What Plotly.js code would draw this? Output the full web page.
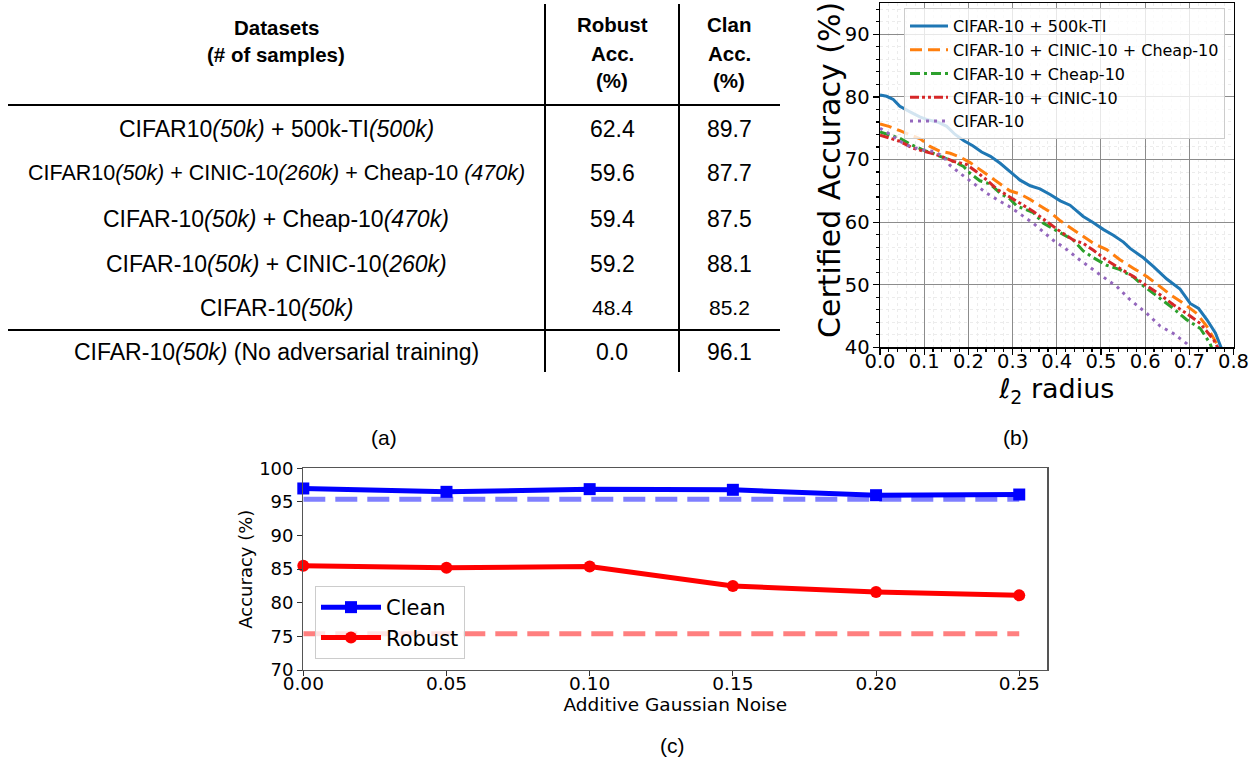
<!DOCTYPE html>
<html>
<head>
<meta charset="utf-8">
<script src="https://cdn.plot.ly/plotly-3.0.1.min.js"></script>
<style>html,body{margin:0;padding:0;background:#fff;}#chart{width:1256px;height:758px;}</style>
</head>
<body>
<div id="chart"></div>
<script>
// ---------- (a) table data ----------
const tableHeaderDatasets = ['Datasets', '(# of samples)'];
const tableHeaderRobust = ['Robust', 'Acc.', '(%)'];
const tableHeaderClean = ['Clan', 'Acc.', '(%)'];
const datasetLabels = [
  'CIFAR10<i>(50k)</i> + 500k-TI<i>(500k)</i>',
  'CIFAR10<i>(50k)</i> + CINIC-10<i>(260k)</i> + Cheap-10 <i>(470k)</i>',
  'CIFAR-10<i>(50k)</i> + Cheap-10<i>(470k)</i>',
  'CIFAR-10<i>(50k)</i> + CINIC-10(<i>260k)</i>',
  'CIFAR-10<i>(50k)</i>',
  'CIFAR-10<i>(50k)</i> (No adversarial training)'
];
const tableRobustAcc = ['62.4', '59.6', '59.4', '59.2', '48.4', '0.0'];
const tableCleanAcc = ['89.7', '87.7', '87.5', '88.1', '85.2', '96.1'];

// ---------- (b) certified accuracy curves ----------
const seriesNamesB = ['CIFAR-10 + 500k-TI', 'CIFAR-10 + CINIC-10 + Cheap-10', 'CIFAR-10 + Cheap-10', 'CIFAR-10 + CINIC-10', 'CIFAR-10'];
const ti500kX = [0, 0.015, 0.03, 0.045, 0.068, 0.09, 0.11, 0.13, 0.151, 0.17, 0.19, 0.21, 0.23, 0.25, 0.272, 0.294, 0.317, 0.34, 0.362, 0.385, 0.408, 0.43, 0.46, 0.483, 0.506, 0.528, 0.551, 0.566, 0.596, 0.619, 0.649, 0.679, 0.702, 0.721, 0.74, 0.759, 0.77, 0.78];
const ti500kY = [80.3, 80.1, 79.6, 78.5, 77.6, 76.8, 76.3, 76.0, 75.3, 74.0, 73.0, 72.2, 71.2, 70.5, 69.4, 68.1, 66.7, 65.8, 65.3, 64.4, 63.4, 62.7, 60.9, 59.9, 58.8, 57.9, 56.8, 55.8, 54.3, 52.9, 50.9, 49.3, 47.0, 46.2, 44.4, 42.3, 40.1, 38.5];
const cinicCheapX = [0, 0.02, 0.045, 0.07, 0.091, 0.113, 0.136, 0.159, 0.181, 0.204, 0.226, 0.249, 0.272, 0.294, 0.317, 0.34, 0.362, 0.385, 0.408, 0.438, 0.46, 0.483, 0.513, 0.543, 0.574, 0.604, 0.634, 0.657, 0.687, 0.717, 0.74, 0.762, 0.775];
const cinicCheapY = [75.7, 75.3, 74.6, 73.9, 73.3, 72.1, 71.3, 71.0, 70.4, 69.5, 68.4, 67.3, 66.2, 65.0, 64.5, 63.6, 62.6, 61.6, 60.2, 58.8, 57.7, 56.6, 55.6, 54.0, 52.6, 51.3, 49.7, 48.4, 47.0, 45.4, 43.3, 40.5, 39.0];
const cheapX = [0, 0.02, 0.045, 0.07, 0.098, 0.12, 0.136, 0.166, 0.189, 0.204, 0.226, 0.249, 0.272, 0.294, 0.309, 0.33, 0.347, 0.37, 0.39, 0.408, 0.438, 0.46, 0.483, 0.513, 0.543, 0.574, 0.596, 0.634, 0.664, 0.694, 0.725, 0.747, 0.755];
const cheapY = [74.4, 74.0, 73.4, 72.4, 71.5, 71.0, 70.5, 69.7, 68.9, 67.8, 66.6, 66.1, 64.6, 63.7, 62.6, 62.0, 61.5, 59.8, 59.0, 58.2, 57.1, 55.4, 54.3, 53.1, 52.4, 51.2, 49.8, 47.8, 46.2, 44.4, 43.0, 40.6, 39.0];
const cinicX = [0, 0.02, 0.045, 0.075, 0.106, 0.136, 0.166, 0.196, 0.219, 0.242, 0.264, 0.287, 0.309, 0.347, 0.377, 0.408, 0.438, 0.46, 0.483, 0.513, 0.543, 0.574, 0.604, 0.634, 0.664, 0.694, 0.725, 0.755, 0.768];
const cinicY = [73.9, 73.4, 72.9, 71.8, 71.2, 70.6, 69.7, 69.2, 68.0, 66.7, 65.3, 64.3, 63.3, 61.7, 60.1, 58.5, 57.1, 56.6, 55.5, 53.9, 52.6, 51.3, 49.8, 48.4, 46.8, 45.4, 43.8, 41.2, 39.5];
const cifarX = [0, 0.015, 0.03, 0.045, 0.07, 0.1, 0.121, 0.143, 0.158, 0.181, 0.211, 0.242, 0.272, 0.29, 0.309, 0.347, 0.392, 0.423, 0.453, 0.483, 0.506, 0.536, 0.566, 0.604, 0.634, 0.664, 0.694, 0.71];
const cifarY = [75.0, 74.4, 73.7, 72.9, 72.0, 71.5, 71.3, 70.5, 69.1, 67.8, 66.2, 64.6, 63.3, 62.6, 61.7, 59.8, 57.1, 55.6, 53.9, 52.3, 51.2, 49.7, 47.6, 45.4, 43.4, 42.2, 40.6, 39.5];
const xTicksB = [0, 0.1, 0.2, 0.3, 0.4, 0.5, 0.6, 0.7, 0.8];
const yTicksB = [40, 50, 60, 70, 80, 90];

// ---------- (c) noise experiment ----------
const noiseLevels = [0, 0.05, 0.10, 0.15, 0.20, 0.25];
const cleanAccC = [97.0, 96.5, 96.9, 96.8, 96.0, 96.1];
const robustAccC = [85.5, 85.2, 85.4, 82.5, 81.6, 81.1];
const baselineX = [0, 0.25];
const cleanBaseline = [95.4, 95.4];
const robustBaseline = [75.4, 75.4];
const xTicksC = [0, 0.05, 0.10, 0.15, 0.20, 0.25];
const yTicksC = [70, 75, 80, 85, 90, 95, 100];

// ---------- helpers ----------
const W = 1256, H = 758;
const px = x => x / W;
const py = y => 1 - y / H;
const MPL = 'DejaVu Sans, sans-serif';
const ARIAL = 'Liberation Sans, Arial, sans-serif';

const traces = [];
const bColors = ['#1f77b4', '#ff7f0e', '#2ca02c', '#d62728', '#9467bd'];
const bDashes = ['solid', '12px,6px', '10px,4px,3px,4px', '9px,3px,3px,3px,3px,3px', '3px,5px'];
const bX = [ti500kX, cinicCheapX, cheapX, cinicX, cifarX];
const bY = [ti500kY, cinicCheapY, cheapY, cinicY, cifarY];
for (let i = 0; i < 5; i++) {
  traces.push({
    type: 'scatter', mode: 'lines', x: bX[i], y: bY[i], name: seriesNamesB[i],
    xaxis: 'x', yaxis: 'y', legend: 'legend', legendgroup: 'b' + i,
    line: {color: bColors[i], width: 3, dash: bDashes[i]}
  });
}
traces.push({
  type: 'scatter', mode: 'lines', x: baselineX, y: cleanBaseline, xaxis: 'x2', yaxis: 'y2',
  showlegend: false, line: {color: 'rgba(0,0,255,0.5)', width: 5, dash: '22px,10px'}
});
traces.push({
  type: 'scatter', mode: 'lines', x: baselineX, y: robustBaseline, xaxis: 'x2', yaxis: 'y2',
  showlegend: false, line: {color: 'rgba(255,0,0,0.5)', width: 5, dash: '22px,10px'}
});
traces.push({
  type: 'scatter', mode: 'lines+markers', x: noiseLevels, y: cleanAccC, name: 'Clean',
  xaxis: 'x2', yaxis: 'y2', legend: 'legend2', cliponaxis: false, legendgroup: 'c0',
  line: {color: '#0000ff', width: 5}, marker: {symbol: 'square', size: 12, color: '#0000ff'}
});
traces.push({
  type: 'scatter', mode: 'lines+markers', x: noiseLevels, y: robustAccC, name: 'Robust',
  xaxis: 'x2', yaxis: 'y2', legend: 'legend2', cliponaxis: false, legendgroup: 'c1',
  line: {color: '#ff0000', width: 5}, marker: {symbol: 'circle', size: 12, color: '#ff0000'}
});

// ---------- annotations (table + captions) ----------
const ann = [];
const txt = (x, y, text, size, extra) => Object.assign({
  xref: 'paper', yref: 'paper', x: px(x), y: py(y), text: text, showarrow: false,
  xanchor: 'center', yanchor: 'middle', font: {family: ARIAL, size: size, color: '#000'}
}, extra || {});
const col1 = 276, col2 = 612, col3 = 729;
const headerYs = [25, 53, 80];
tableHeaderDatasets.forEach((t, i) => ann.push(txt(col1, [27, 54][i], '<b>' + t + '</b>', 20.5)));
tableHeaderRobust.forEach((t, i) => ann.push(txt(col2, headerYs[i], '<b>' + t + '</b>', 20.5)));
tableHeaderClean.forEach((t, i) => ann.push(txt(col3, headerYs[i], '<b>' + t + '</b>', 20.5)));
const rowYs = [128.5, 173, 218.5, 264, 307.5, 351.5];
datasetLabels.forEach((t, i) => {
  ann.push(txt(col1, rowYs[i], t, i === 1 ? 21.5 : 23));
  ann.push(txt(col2, rowYs[i], tableRobustAcc[i], i === 4 ? 21 : 23));
  ann.push(txt(col3, rowYs[i], tableCleanAcc[i], i === 4 ? 21 : 23));
});
ann.push(txt(384, 437, '(a)', 21));
ann.push(txt(1016, 437, '(b)', 21));
ann.push(txt(672, 745, '(c)', 21));
// y-axis title of (b), placed tight against the tick labels as in the reference
ann.push(txt(830, 170, 'Certified Accuracy (%)', 30, {textangle: -90, font: {family: MPL, size: 30, color: '#000'}}));

const line = (x0, y0, x1, y1) => ({
  type: 'line', xref: 'paper', yref: 'paper', x0: px(x0), y0: py(y0), x1: px(x1), y1: py(y1),
  line: {color: '#000', width: 2}
});
const shapes = [
  line(545, 4, 545, 372),
  line(679, 4, 679, 372),
  line(8, 105, 780, 105),
  line(8, 330, 780, 330)
];

const layout = {
  width: W, height: H, autosize: false,
  margin: {l: 0, r: 0, t: 0, b: 0, pad: 0},
  paper_bgcolor: '#fff', plot_bgcolor: '#fff',
  showlegend: true,
  font: {family: MPL, color: '#000'},
  xaxis: {
    domain: [px(880), px(1233.5)], range: [0, 0.8], anchor: 'y',
    tickvals: xTicksB, tickformat: '.1f', ticks: 'outside', ticklen: 6, tickwidth: 1.2, tickcolor: '#000',
    tickfont: {family: MPL, size: 19.5, color: '#000'}, ticklabelstandoff: -10,
    showline: true, linecolor: '#000', linewidth: 1.5, mirror: true,
    showgrid: true, gridcolor: '#8c8c8c', gridwidth: 1, zeroline: false,
    minor: {dtick: 0.02, tick0: 0, ticks: 'outside', ticklen: 3, tickcolor: '#000', showgrid: true, gridcolor: '#ececec', griddash: 'dot', gridwidth: 1},
    title: {text: 'ℓ<sub>2</sub> radius', font: {family: MPL, size: 27, color: '#000'}, standoff: 0}
  },
  yaxis: {
    domain: [py(347.3), py(3)], range: [40, 95], anchor: 'x',
    tickvals: yTicksB, ticks: 'outside', ticklen: 6, tickwidth: 1.2, tickcolor: '#000',
    tickfont: {family: MPL, size: 19.5, color: '#000'}, ticklabelstandoff: -1,
    showline: true, linecolor: '#000', linewidth: 1.5, mirror: true,
    showgrid: true, gridcolor: '#8c8c8c', gridwidth: 1, zeroline: false,
    minor: {dtick: 2, tick0: 40, ticks: 'outside', ticklen: 3, tickcolor: '#000', showgrid: true, gridcolor: '#ececec', griddash: 'dot', gridwidth: 1}
  },
  xaxis2: {
    domain: [px(303.3), px(1047.3)], range: [0, 0.2598], anchor: 'y2',
    tickvals: xTicksC, tickformat: '.2f', ticks: 'outside', ticklen: 5, tickcolor: '#333',
    tickfont: {family: MPL, size: 18.5, color: '#000'}, ticklabelstandoff: -8,
    showline: true, linecolor: '#555', linewidth: 1.2, mirror: true,
    showgrid: false, zeroline: false,
    title: {text: 'Additive Gaussian Noise', font: {family: MPL, size: 18.5, color: '#000'}, standoff: 0}
  },
  yaxis2: {
    domain: [py(670), py(468.3)], range: [70, 100], anchor: 'x2',
    tickvals: yTicksC, ticks: 'outside', ticklen: 5, tickcolor: '#333',
    tickfont: {family: MPL, size: 18, color: '#000'},
    showline: true, linecolor: '#555', linewidth: 1.2, mirror: true,
    showgrid: false, zeroline: false,
    title: {text: 'Accuracy (%)', font: {family: MPL, size: 18, color: '#000'}, standoff: 1}
  },
  legend: {
    x: px(904), y: py(8), xanchor: 'left', yanchor: 'top',
    bgcolor: 'rgba(255,255,255,0.8)', bordercolor: '#cccccc', borderwidth: 1,
    font: {family: MPL, size: 16, color: '#000'}, tracegroupgap: 1, traceorder: 'normal',
    itemwidth: 38
  },
  legend2: {
    x: px(315), y: py(586), xanchor: 'left', yanchor: 'top',
    bgcolor: 'rgba(255,255,255,0.8)', bordercolor: '#cccccc', borderwidth: 1,
    font: {family: MPL, size: 21, color: '#000'}, tracegroupgap: 0, traceorder: 'normal',
    itemwidth: 60
  },
  annotations: ann,
  shapes: shapes
};

Plotly.newPlot('chart', traces, layout, {displayModeBar: false, staticPlot: true});
</script>
</body>
</html>
